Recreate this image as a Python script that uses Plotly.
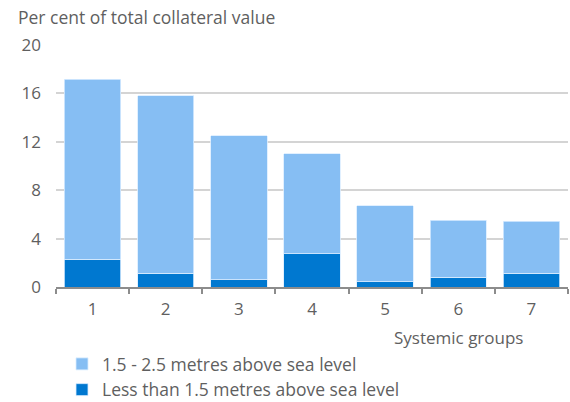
import plotly.graph_objects as go

# Systemic groups and collateral shares (per cent of total collateral value)
groups = ["1", "2", "3", "4", "5", "6", "7"]
below_1_5m = [2.3, 1.15, 0.6, 2.75, 0.45, 0.8, 1.15]
total_2_5m = [17.15, 15.8, 12.5, 11.0, 6.7, 5.5, 5.45]
between_1_5_2_5m = [round(t - b, 2) for t, b in zip(total_2_5m, below_1_5m)]

y_ticks = [0, 4, 8, 12, 16, 20]

LIGHT = "#86BEF3"
DARK = "#0078D0"
TEXT = "#5F5F5F"
FONT = "Open Sans"

fig = go.Figure()
fig.add_trace(go.Bar(
    x=groups, y=below_1_5m, name="Less than 1.5 metres above sea level",
    marker=dict(color=DARK, line=dict(color="#D9ECFF", width=0.8)),
))
fig.add_trace(go.Bar(
    x=groups, y=between_1_5_2_5m, name="1.5 - 2.5 metres above sea level",
    marker=dict(color=LIGHT, line=dict(color="#D9ECFF", width=0.8)),
))

fig.update_layout(
    width=570, height=402,
    barmode="stack", bargap=0.23,
    plot_bgcolor="white", paper_bgcolor="white",
    margin=dict(l=56, r=2, t=45, b=115, autoexpand=False),
    font=dict(family=FONT, color=TEXT, size=17),
    showlegend=True,
    legend=dict(
        orientation="v", traceorder="reversed",
        xref="container", yref="container",
        x=62 / 570, xanchor="left",
        y=1 - 346 / 402, yanchor="top",
        font=dict(size=17.5, color=TEXT),
        itemwidth=30, tracegroupgap=0,
        bgcolor="rgba(0,0,0,0)",
    ),
    xaxis=dict(
        type="category",
        showgrid=False,
        showline=True, linecolor="#8C8C8C", linewidth=1.5,
        ticks="outside", tickson="boundaries", ticklen=5,
        tickcolor="#8C8C8C", tickwidth=1.5,
        ticklabelstandoff=6,
        tickfont=dict(size=17, color=TEXT),
    ),
    yaxis=dict(
        range=[0, 20],
        tickvals=y_ticks,
        showgrid=True, gridcolor="#D4D4D4", gridwidth=1.5,
        zeroline=False, showline=False,
        ticks="", ticklabelstandoff=14,
        tickfont=dict(size=17, color=TEXT),
    ),
    annotations=[
        dict(text="Per cent of total collateral value",
             xref="paper", yref="paper",
             x=(16 - 56) / 512, y=1 + 28 / 242,
             xanchor="left", yanchor="middle", showarrow=False,
             font=dict(size=17.5, color=TEXT)),
        dict(text="Systemic groups",
             xref="paper", yref="paper",
             x=(525 - 56) / 512, y=-(337 - 287) / 242,
             xanchor="right", yanchor="middle", showarrow=False,
             font=dict(size=17, color=TEXT)),
    ],
)

fig.write_html("out.html")
